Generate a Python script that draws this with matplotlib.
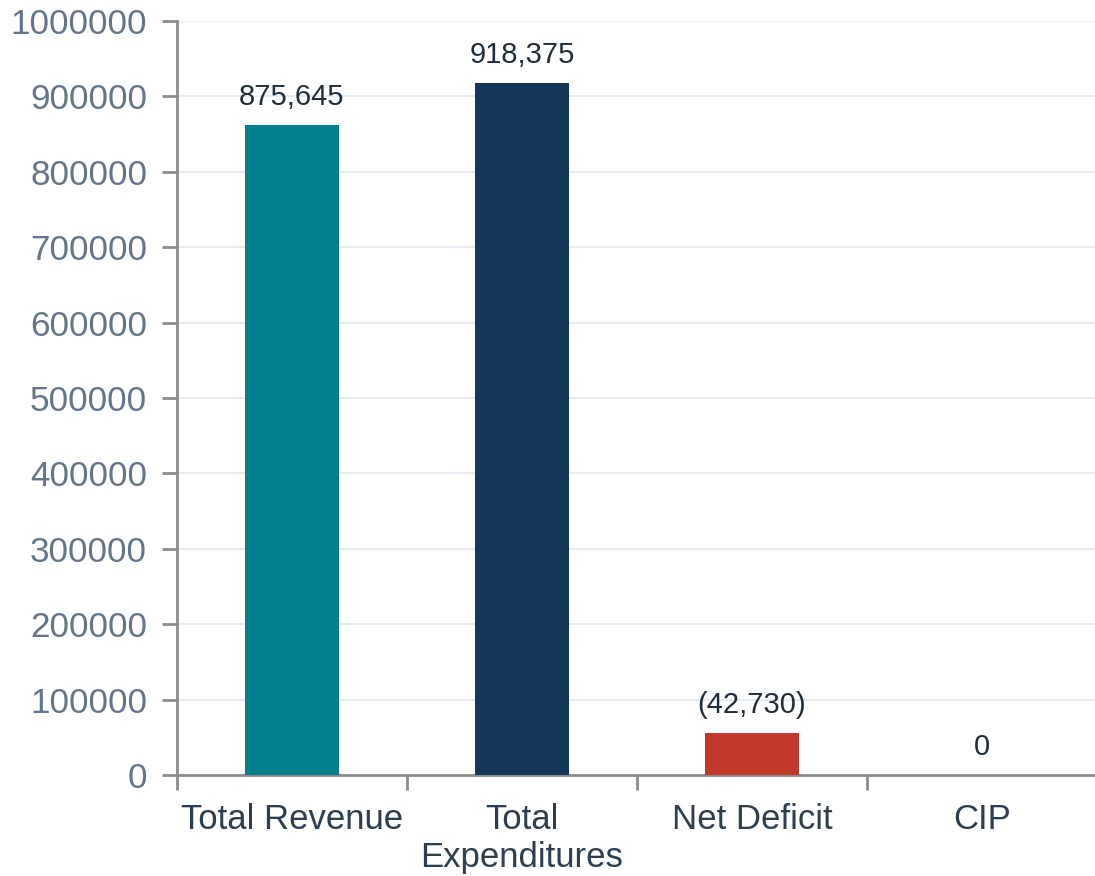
import numpy as np
import matplotlib
matplotlib.use("Agg")
import matplotlib.pyplot as plt
from matplotlib.ticker import FixedLocator

# Data
categories = ["Total Revenue", "Total\nExpenditures", "Net Deficit", "CIP"]
bar_heights = [862000, 918000, 56000, 0]
value_labels = ["875,645", "918,375", "(42,730)", "0"]
bar_colors = ["#037f8c", "#15375a", "#c0392b", "#c0392b"]

plt.rcParams['font.family'] = ['Liberation Sans', 'DejaVu Sans']

fig = plt.figure(figsize=(10.95, 8.76), dpi=100)
ax = fig.add_axes([177 / 1095, 101 / 876, 920 / 1095, 754 / 876])

x = np.arange(len(categories))
ax.bar(x, bar_heights, width=0.405, color=bar_colors, zorder=3)

for xi, h, lab in zip(x, bar_heights, value_labels):
    ax.annotate(lab, (xi, h), xytext=(0, 28), textcoords='offset pixels',
                ha='center', va='center', fontsize=21, color='#1f2d3d')

ax.set_xlim(-0.5, len(categories) - 0.5)
ax.set_ylim(0, 1000000)
ax.set_yticks(np.arange(0, 1000001, 100000))
ax.set_yticklabels([str(v) for v in range(0, 1000001, 100000)])

ax.set_xticks(x)
ax.set_xticklabels(categories)
ax.xaxis.set_minor_locator(FixedLocator(np.arange(-0.5, len(categories), 1.0)))
ax.tick_params(axis='x', which='major', length=0, pad=20, labelsize=25, labelcolor='#2d3e50')
ax.tick_params(axis='x', which='minor', length=11, width=2, color='#8c8c8c')
ax.tick_params(axis='y', length=11, width=2, color='#8c8c8c', pad=10.5,
               labelsize=25.3, labelcolor='#64748b')

for lbl in ax.get_xticklabels():
    lbl.set_linespacing(1.2)

ax.grid(axis='y', color='#e3e8f0', linewidth=1.2, zorder=0)
ax.set_axisbelow(True)
for side in ['top', 'right']:
    ax.spines[side].set_visible(False)
for side in ['left', 'bottom']:
    ax.spines[side].set_color('#8c8c8c')
    ax.spines[side].set_linewidth(2)

fig.savefig("out.png", dpi=100)
